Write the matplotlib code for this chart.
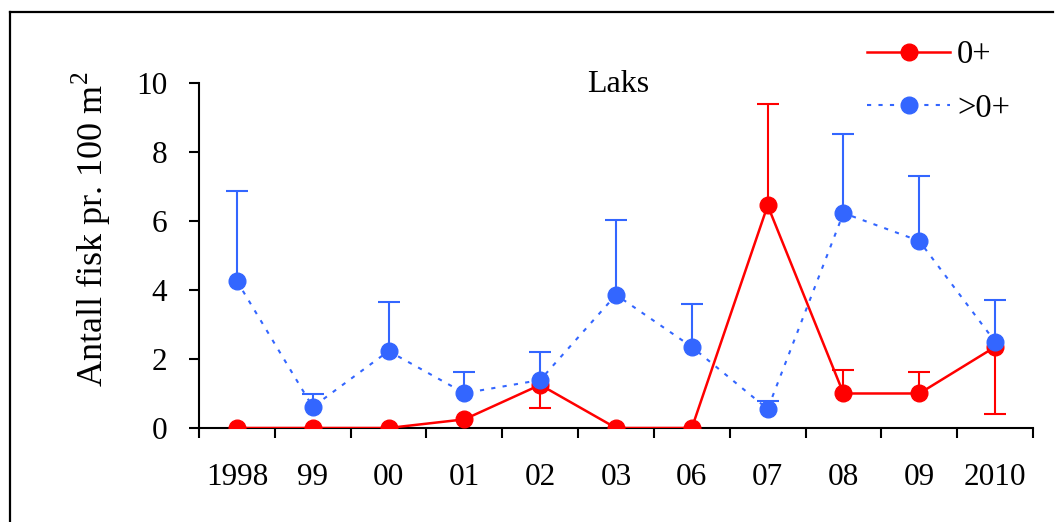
import numpy as np
import matplotlib
matplotlib.use('Agg')
import matplotlib.pyplot as plt
from matplotlib.lines import Line2D

plt.rcParams['font.family'] = ['Liberation Serif', 'DejaVu Serif']
plt.rcParams['mathtext.fontset'] = 'custom'
plt.rcParams['mathtext.rm'] = 'Liberation Serif'

years = ['1998', '99', '00', '01', '02', '03', '06', '07', '08', '09', '2010']

# 0+ (red): mean, error bar going down, error bar going up
young = [0, 0, 0, 0.25, 1.25, 0, 0, 6.45, 1.0, 1.0, 2.35]
young_lo = [0, 0, 0, 0, 0.67, 0, 0, 0, 0, 0, 1.94]
young_hi = [0, 0, 0, 0, 0, 0, 0, 2.93, 0.67, 0.62, 0]

# >0+ (blue)
older = [4.26, 0.61, 2.23, 1.01, 1.39, 3.86, 2.35, 0.55, 6.23, 5.42, 2.5]
older_lo = [0] * 11
older_hi = [2.62, 0.37, 1.42, 0.6, 0.82, 2.17, 1.24, 0.23, 2.29, 1.88, 1.21]

red = '#ff0000'
blue = '#3366ff'


def draw_errors(ax, x, y, lo, hi, color, z):
    y, lo, hi = np.asarray(y), np.asarray(lo), np.asarray(hi)
    ax.vlines(x, y - lo, y + hi, color=color, lw=1.5, zorder=z)
    up = hi > 0
    down = lo > 0
    ax.plot(x[up], (y + hi)[up], ls='none', marker='_', ms=16, mew=1.5,
            color=color, zorder=z)
    ax.plot(x[down], (y - lo)[down], ls='none', marker='_', ms=16, mew=1.5,
            color=color, zorder=z)


fig = plt.figure(figsize=(10.58, 5.22), dpi=100)
ax = fig.add_axes([0.1881, 0.1801, 0.7883, 0.661])
x = np.arange(len(years))

draw_errors(ax, x, young, young_lo, young_hi, red, 2)
ax.plot(x, young, color=red, lw=1.8, marker='o', ms=12, label='0+', zorder=3)
draw_errors(ax, x, older, older_lo, older_hi, blue, 3.5)
ax.plot(x, older, color=blue, lw=1.5, ls=(0, (2, 3.5)), marker='o', ms=12,
        label='>0+', zorder=4)

ax.set_xlim(-0.5, len(years) - 0.5)
ax.set_ylim(0, 10)
ax.set_yticks(range(0, 11, 2))
ax.set_xticks(np.arange(-0.5, len(years), 1.0))
ax.set_xticklabels([])
ax.set_xticks(x, minor=True)
ax.set_xticklabels(years, minor=True)
ax.tick_params(axis='x', which='major', direction='out', length=7, width=1.5)
ax.tick_params(axis='x', which='minor', length=0, pad=25, labelsize=22.5)
ax.tick_params(axis='y', direction='out', length=7, width=1.5, pad=16, labelsize=22.5)
for s in ['top', 'right']:
    ax.spines[s].set_visible(False)
for s in ['left', 'bottom']:
    ax.spines[s].set_linewidth(1.5)

ax.set_ylabel('Antall fisk pr. 100 m$^2$', fontsize=26)
ax.yaxis.set_label_coords(-0.103, 0.577)
ax.text(0.502, 0.995, 'Laks', transform=ax.transAxes, ha='center', va='center',
        fontsize=23)

fig.legend(loc='upper left', bbox_to_anchor=(0.8195, 0.924), frameon=False,
           fontsize=23.5, handlelength=2.55, handletextpad=0.21, labelspacing=0.71,
           borderpad=0, borderaxespad=0)

# figure border (top and left only)
fig.add_artist(Line2D([10 / 1058, 1053 / 1058], [1 - 12 / 522, 1 - 12 / 522],
                      color='black', lw=1.6, transform=fig.transFigure))
fig.add_artist(Line2D([10 / 1058, 10 / 1058], [1 - 12 / 522, 0],
                      color='black', lw=1.6, transform=fig.transFigure))

fig.savefig('out.png', dpi=100)
